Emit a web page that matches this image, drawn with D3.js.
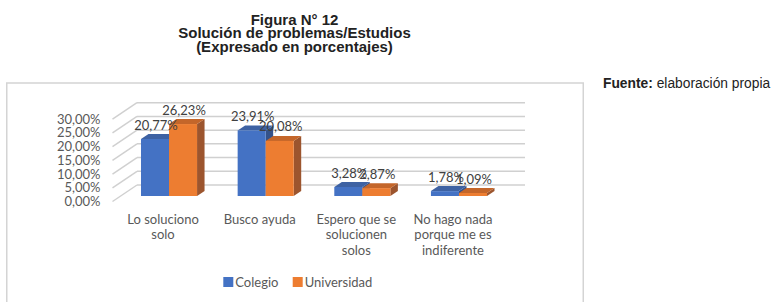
<!DOCTYPE html>
<html>
<head>
<meta charset="utf-8">
<script src="https://cdn.jsdelivr.net/npm/d3@7"></script>
<style>
  body { margin: 0; background: #fff; }
  svg { display: block; }
</style>
</head>
<body>
<div id="chart"></div>
<script>
const width = 782, height = 302;

// data
const categories = [
    ["Lo soluciono", "solo"],
    ["Busco ayuda"],
    ["Espero que se", "solucionen", "solos"],
    ["No hago nada", "porque me es", "indiferente"]
];
const series = ["Colegio", "Universidad"];
const colegio = [20.77, 23.91, 3.28, 1.78];
const universidad = [26.23, 20.08, 2.87, 1.09];
const yTicks = [0, 5, 10, 15, 20, 25, 30];
const titleLines = ["Figura N° 12", "Solución de problemas/Estudios", "(Expresado en porcentajes)"];

const values = [colegio, universidad];
const colors = {
    front: ["#4472C4", "#ED7D31"],
    top: ["#3E62A3", "#C4662A"],
    side: ["#34528A", "#9C552E"]
};

const svg = d3
    .select("#chart")
    .append("svg")
    .attr("width", width)
    .attr("height", height);

// title
svg.append("g")
    .selectAll("text")
    .data(titleLines)
    .join("text")
    .attr("x", 294.5)
    .attr("y", (d, i) => 24.5 + i * 13.8)
    .attr("text-anchor", "middle")
    .style("font-family", "Liberation Sans, Arial, sans-serif")
    .style("font-size", "15px")
    .style("font-weight", "bold")
    .style("fill", "#222")
    .text((d) => d);

const src = svg.append("text")
    .attr("x", 603)
    .attr("y", 88)
    .style("font-family", "Liberation Sans, Arial, sans-serif")
    .style("font-size", "13.8px")
    .style("fill", "#222");
src.append("tspan").style("font-weight", "bold").text("Fuente:");
src.append("tspan").text(" elaboración propia");

// chart frame
svg.append("rect")
    .attr("x", 6.75)
    .attr("y", 83)
    .attr("width", 576.5)
    .attr("height", 240)
    .attr("fill", "none")
    .attr("stroke", "#d4d4d4")
    .attr("stroke-width", 1.5);

const font = "Lato, Calibri, sans-serif";
const textColor = "#595959";

// scales
const hScale = d3.scaleLinear().domain([0, 30]).range([0, 82.3]);
const frontBase = 201.5, backBase = 185, barBase = 196;
const wallX0 = 112.5, wallX1 = 137, wallRight = 525;
const barDx = 7.5, barDy = 5;

const x = d3
    .scaleBand()
    .domain(d3.range(categories.length))
    .range([120.7, 507.3])
    .paddingInner(0.42)
    .paddingOuter(0.21);
const xs = d3.scaleBand().domain(d3.range(series.length)).range([0, x.bandwidth()]);

// back wall gridlines and side wall lines
const grid = svg.append("g")
    .attr("stroke", "#d0d0d0")
    .attr("stroke-width", 1.5)
    .attr("fill", "none");
grid.selectAll("line.back")
    .data(yTicks)
    .join("line")
    .attr("class", "back")
    .attr("x1", wallX1)
    .attr("x2", wallRight)
    .attr("y1", (d) => backBase - hScale(d))
    .attr("y2", (d) => backBase - hScale(d));
grid.selectAll("line.side")
    .data(yTicks)
    .join("line")
    .attr("class", "side")
    .attr("x1", wallX0)
    .attr("x2", wallX1)
    .attr("y1", (d) => frontBase - hScale(d))
    .attr("y2", (d) => backBase - hScale(d));

// y tick labels
svg.append("g")
    .selectAll("text")
    .data(yTicks)
    .join("text")
    .attr("x", 100.5)
    .attr("y", (d) => frontBase - hScale(d) + 4.5)
    .attr("text-anchor", "end")
    .style("font-family", font)
    .style("font-size", "13px")
    .style("fill", textColor)
    .text((d) => d3.format(".2f")(d).replace(".", ",") + "%");

// 3D bars
const bars = [];
categories.forEach((c, i) => {
    series.forEach((s, j) => {
        bars.push({ i, j, v: values[j][i] });
    });
});

const barG = svg.append("g")
    .selectAll("g")
    .data(bars)
    .join("g");

const bx = (d) => x(d.i) + xs(d.j);
const bw = xs.bandwidth();
const btop = (d) => barBase - hScale(d.v);

barG.append("path")
    .attr("fill", (d) => colors.side[d.j])
    .attr("d", (d) => {
        const x1 = bx(d) + bw, t = btop(d);
        return `M${x1},${t}L${x1 + barDx},${t - barDy}L${x1 + barDx},${barBase - barDy}L${x1},${barBase}Z`;
    });
barG.append("path")
    .attr("fill", (d) => colors.top[d.j])
    .attr("d", (d) => {
        const x0 = bx(d), t = btop(d);
        return `M${x0},${t}L${x0 + bw},${t}L${x0 + bw + barDx},${t - barDy}L${x0 + barDx},${t - barDy}Z`;
    });
barG.append("rect")
    .attr("fill", (d) => colors.front[d.j])
    .attr("x", bx)
    .attr("y", btop)
    .attr("width", bw)
    .attr("height", (d) => hScale(d.v));

// data labels
svg.append("g")
    .selectAll("text")
    .data(bars)
    .join("text")
    .attr("x", (d) => bx(d) + bw / 2 + 1)
    .attr("y", (d) => btop(d) - 9.5)
    .attr("text-anchor", "middle")
    .style("font-family", font)
    .style("font-size", "13px")
    .style("fill", "#404040")
    .text((d) => d3.format(".2f")(d.v).replace(".", ",") + "%");

// category labels
const catG = svg.append("g")
    .selectAll("text")
    .data(categories)
    .join("text")
    .attr("text-anchor", "middle")
    .style("font-family", font)
    .style("font-size", "13px")
    .style("fill", textColor);
catG.selectAll("tspan")
    .data((d, i) => d.map((line) => ({ line, i })))
    .join("tspan")
    .attr("x", (d) => x(d.i) + x.bandwidth() / 2 - 6)
    .attr("y", (d, k) => 223.5 + k * 15.5)
    .text((d) => d.line);

// legend
const legend = svg.append("g")
    .selectAll("g")
    .data(series)
    .join("g")
    .attr("transform", (d, i) => `translate(${[223.3, 292.7][i]}, 277)`);
legend.append("rect")
    .attr("width", 10)
    .attr("height", 10)
    .attr("fill", (d, i) => colors.front[i]);
legend.append("text")
    .attr("x", 12)
    .attr("y", 9.5)
    .style("font-family", font)
    .style("font-size", "13px")
    .style("fill", textColor)
    .text((d) => d);
</script>
</body>
</html>
